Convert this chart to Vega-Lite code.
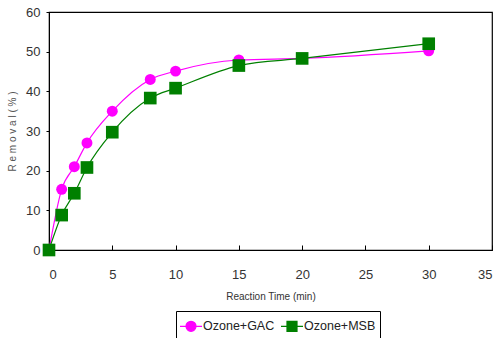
{
  "$schema": "https://vega.github.io/schema/vega-lite/v6.json",
  "width": 443,
  "height": 238,
  "autosize": "none",
  "padding": {"left": 49, "top": 12, "right": 12, "bottom": 88},
  "background": "white",
  "config": {
    "view": {"stroke": "black", "strokeWidth": 1.2},
    "font": "Liberation Sans Narrow, Liberation Sans",
    "legend": {
      "title": null,
      "orient": "none",
      "legendX": 127,
      "legendY": 299,
      "direction": "horizontal",
      "columns": 2,
      "strokeColor": "black",
      "padding": 4,
      "labelFontSize": 12.5,
      "labelColor": "#222",
      "symbolSize": 400,
      "symbolStrokeWidth": 1.2,
      "columnPadding": 3,
      "labelOffset": 1
    }
  },
  "data": {
    "values": [
      {"t": 0, "r": 0, "s": "Ozone+GAC"},
      {"t": 1, "r": 15.3, "s": "Ozone+GAC"},
      {"t": 2, "r": 21, "s": "Ozone+GAC"},
      {"t": 3, "r": 27, "s": "Ozone+GAC"},
      {"t": 5, "r": 35, "s": "Ozone+GAC"},
      {"t": 8, "r": 43, "s": "Ozone+GAC"},
      {"t": 10, "r": 45.1, "s": "Ozone+GAC"},
      {"t": 15, "r": 47.9, "s": "Ozone+GAC"},
      {"t": 20, "r": 48.3, "s": "Ozone+GAC"},
      {"t": 30, "r": 50.2, "s": "Ozone+GAC"},
      {"t": 0, "r": 0, "s": "Ozone+MSB"},
      {"t": 1, "r": 8.8, "s": "Ozone+MSB"},
      {"t": 2, "r": 14.3, "s": "Ozone+MSB"},
      {"t": 3, "r": 20.8, "s": "Ozone+MSB"},
      {"t": 5, "r": 29.7, "s": "Ozone+MSB"},
      {"t": 8, "r": 38.3, "s": "Ozone+MSB"},
      {"t": 10, "r": 40.8, "s": "Ozone+MSB"},
      {"t": 15, "r": 46.5, "s": "Ozone+MSB"},
      {"t": 20, "r": 48.3, "s": "Ozone+MSB"},
      {"t": 30, "r": 52, "s": "Ozone+MSB"}
    ]
  },
  "encoding": {
    "x": {
      "field": "t", "type": "quantitative",
      "scale": {"domain": [0, 35], "nice": false},
      "axis": {
        "values": [0, 5, 10, 15, 20, 25, 30, 35],
        "title": "Reaction Time (min)",
        "titleFontSize": 10, "titleFontWeight": "normal", "titleColor": "#333",
        "titlePadding": 10,
        "labelFontSize": 13, "labelColor": "#333",
        "tickSize": -5, "tickColor": "black", "domainColor": "black",
        "labelPadding": 23, "grid": false
      }
    },
    "y": {
      "field": "r", "type": "quantitative",
      "scale": {"domain": [0, 60], "nice": false},
      "axis": {
        "values": [0, 10, 20, 30, 40, 50, 60],
        "title": "R e m o v a l  ( % )",
        "titleFontSize": 10, "titleFontWeight": "normal", "titleColor": "#555",
        "titlePadding": 8,
        "labelFontSize": 13, "labelColor": "#333",
        "tickSize": 3, "tickColor": "black", "domainColor": "black",
        "labelPadding": 6, "grid": false
      }
    }
  },
  "layer": [
    {
      "transform": [{"filter": "datum.s === 'Ozone+GAC'"}],
      "mark": {"type": "line", "interpolate": "monotone", "strokeWidth": 1.2, "color": "#ff00ff"},
      "encoding": {}
    },
    {
      "transform": [{"filter": "datum.s === 'Ozone+MSB'"}],
      "mark": {"type": "line", "interpolate": "monotone", "strokeWidth": 1.2, "color": "#008000"},
      "encoding": {}
    },
    {
      "transform": [{"filter": "datum.s === 'Ozone+GAC'"}],
      "mark": {"type": "point", "shape": "circle", "filled": true, "opacity": 1, "size": 120, "color": "#ff00ff"}
    },
    {
      "transform": [{"filter": "datum.s === 'Ozone+MSB'"}],
      "mark": {"type": "point", "shape": "square", "filled": true, "opacity": 1, "size": 160, "color": "#008000"}
    },
    {
      "transform": [{"filter": "datum.t < 0"}],
      "mark": {"type": "point", "filled": true, "opacity": 1, "strokeWidth": 1.2},
      "encoding": {
        "fill": {
          "field": "s", "type": "nominal",
          "scale": {"domain": ["Ozone+GAC", "Ozone+MSB"], "range": ["#ff00ff", "#008000"]}
        },
        "stroke": {
          "field": "s", "type": "nominal",
          "scale": {"domain": ["Ozone+GAC", "Ozone+MSB"], "range": ["#ff00ff", "#008000"]}
        },
        "shape": {
          "field": "s", "type": "nominal",
          "scale": {"domain": ["Ozone+GAC", "Ozone+MSB"], "range": ["M-1.1,0H1.1M-0.5,0A0.5,0.5 0 1,0 0.5,0A0.5,0.5 0 1,0 -0.5,0", "M-1.1,0H1.1M-0.5,-0.5H0.5V0.5H-0.5Z"]}
        }
      }
    }
  ]
}
